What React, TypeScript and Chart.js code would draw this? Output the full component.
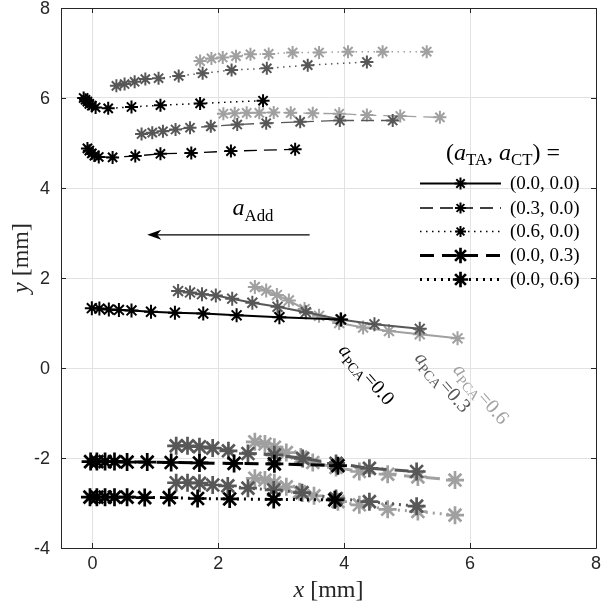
import React, { useEffect, useRef } from 'react';
import { Chart, registerables } from 'chart.js';

Chart.register(...registerables);

// Axis ranges and ticks
const X_MIN = -0.5;
const X_MAX = 8;
const Y_MIN = -4;
const Y_MAX = 8;
const X_TICKS = [0, 2, 4, 6, 8];
const Y_TICKS = [-4, -2, 0, 2, 4, 6, 8];

// a_PCA levels, one shade each
const PCA_LEVELS = ['0.0', '0.3', '0.6'];
const PCA_COLORS = ['#000000', '#575757', '#a0a0a0'];

// (a_TA, a_CT) combinations, one line style each
const STYLE_LABELS = ['(0.0, 0.0)', '(0.3, 0.0)', '(0.6, 0.0)', '(0.0, 0.3)', '(0.0, 0.6)'];

// (a_TA, a_CT) = (0.0, 0.0)
const s1_p0_x = [-0.01, 0.11, 0.26, 0.42, 0.62, 0.93, 1.31, 1.76, 2.29, 2.97, 3.95];
const s1_p0_y = [1.33, 1.32, 1.30, 1.29, 1.28, 1.25, 1.23, 1.21, 1.17, 1.13, 1.08];
const s1_p3_x = [1.36, 1.55, 1.74, 1.96, 2.22, 2.54, 2.94, 3.39, 3.94, 4.48, 5.20];
const s1_p3_y = [1.71, 1.68, 1.64, 1.61, 1.54, 1.45, 1.36, 1.24, 1.08, 0.97, 0.87];
const s1_p6_x = [2.58, 2.76, 2.93, 3.12, 3.37, 3.60, 3.92, 4.30, 4.71, 5.20, 5.80];
const s1_p6_y = [1.80, 1.72, 1.62, 1.50, 1.31, 1.16, 1.00, 0.90, 0.82, 0.75, 0.66];

// (a_TA, a_CT) = (0.3, 0.0)
const s2_p0_x = [-0.08, -0.05, -0.01, 0.03, 0.10, 0.32, 0.68, 1.08, 1.57, 2.20, 3.22];
const s2_p0_y = [4.88, 4.83, 4.77, 4.72, 4.69, 4.68, 4.71, 4.76, 4.78, 4.82, 4.86];
const s2_p3_x = [0.78, 0.95, 1.12, 1.32, 1.55, 1.88, 2.30, 2.76, 3.30, 3.93, 4.77];
const s2_p3_y = [5.20, 5.23, 5.26, 5.30, 5.34, 5.37, 5.41, 5.44, 5.47, 5.50, 5.50];
const s2_p6_x = [2.08, 2.26, 2.45, 2.65, 2.88, 3.15, 3.50, 3.92, 4.36, 4.89, 5.52];
const s2_p6_y = [5.65, 5.66, 5.67, 5.67, 5.68, 5.67, 5.66, 5.65, 5.62, 5.60, 5.57];

// (a_TA, a_CT) = (0.6, 0.0)
const s3_p0_x = [-0.14, -0.11, -0.08, -0.05, -0.01, 0.05, 0.25, 0.62, 1.08, 1.71, 2.71];
const s3_p0_y = [6.00, 5.96, 5.92, 5.87, 5.83, 5.79, 5.77, 5.80, 5.84, 5.88, 5.94];
const s3_p3_x = [0.38, 0.51, 0.67, 0.84, 1.05, 1.37, 1.75, 2.21, 2.77, 3.42, 4.36];
const s3_p3_y = [6.27, 6.31, 6.36, 6.42, 6.44, 6.49, 6.55, 6.62, 6.66, 6.73, 6.80];
const s3_p6_x = [1.71, 1.89, 2.07, 2.28, 2.51, 2.80, 3.18, 3.60, 4.06, 4.61, 5.31];
const s3_p6_y = [6.82, 6.88, 6.90, 6.93, 6.97, 6.98, 7.01, 7.01, 7.03, 7.03, 7.03];

// (a_TA, a_CT) = (0.0, 0.3)
const s4_p0_x = [-0.03, 0.07, 0.20, 0.35, 0.55, 0.87, 1.25, 1.70, 2.25, 2.89, 3.90];
const s4_p0_y = [-2.08, -2.08, -2.08, -2.08, -2.09, -2.09, -2.10, -2.11, -2.12, -2.13, -2.17];
const s4_p3_x = [1.33, 1.51, 1.70, 1.91, 2.16, 2.47, 2.89, 3.34, 3.87, 4.40, 5.15];
const s4_p3_y = [-1.73, -1.73, -1.75, -1.78, -1.84, -1.90, -1.93, -2.01, -2.12, -2.23, -2.30];
const s4_p6_x = [2.58, 2.74, 2.89, 3.08, 3.31, 3.50, 3.87, 4.24, 4.69, 5.17, 5.76];
const s4_p6_y = [-1.64, -1.69, -1.76, -1.88, -1.98, -2.10, -2.21, -2.30, -2.36, -2.42, -2.49];

// (a_TA, a_CT) = (0.0, 0.6)
const s5_p0_x = [-0.04, 0.07, 0.20, 0.35, 0.55, 0.83, 1.22, 1.67, 2.18, 2.88, 3.85];
const s5_p0_y = [-2.87, -2.87, -2.87, -2.87, -2.87, -2.88, -2.88, -2.90, -2.91, -2.92, -2.93];
const s5_p3_x = [1.33, 1.51, 1.70, 1.91, 2.15, 2.47, 2.88, 3.33, 3.87, 4.40, 5.15];
const s5_p3_y = [-2.55, -2.55, -2.56, -2.60, -2.62, -2.67, -2.71, -2.77, -2.90, -2.97, -3.07];
const s5_p6_x = [2.58, 2.74, 2.89, 3.08, 3.29, 3.52, 3.90, 4.24, 4.69, 5.17, 5.76];
const s5_p6_y = [-2.45, -2.49, -2.55, -2.64, -2.75, -2.84, -2.97, -3.04, -3.14, -3.19, -3.27];

const SERIES: [number[], number[]][][] = [
  [[s1_p0_x, s1_p0_y], [s1_p3_x, s1_p3_y], [s1_p6_x, s1_p6_y]],
  [[s2_p0_x, s2_p0_y], [s2_p3_x, s2_p3_y], [s2_p6_x, s2_p6_y]],
  [[s3_p0_x, s3_p0_y], [s3_p3_x, s3_p3_y], [s3_p6_x, s3_p6_y]],
  [[s4_p0_x, s4_p0_y], [s4_p3_x, s4_p3_y], [s4_p6_x, s4_p6_y]],
  [[s5_p0_x, s5_p0_y], [s5_p3_x, s5_p3_y], [s5_p6_x, s5_p6_y]],
];

// Where each a_PCA label starts (data coordinates, below the end of its curve)
const PCA_LABEL_X = [3.97, 5.18, 5.79];
const PCA_LABEL_Y = [0.47, 0.3, 0.04];

// The a_Add arrow and its label (data coordinates)
const ARROW_FROM = [3.45, 2.96];
const ARROW_TO = [0.87, 2.96];
const ARROW_LABEL = [2.55, 3.55];

// Line style of each (a_TA, a_CT) combination
const LINE_STYLES = [
  { dash: [] as number[], width: 2, radius: 7, pointWidth: 2 },
  { dash: [13, 7], width: 1.3, radius: 6.5, pointWidth: 2 },
  { dash: [1.5, 4.5], width: 1.5, radius: 6.5, pointWidth: 2 },
  { dash: [14, 8], width: 3, radius: 9, pointWidth: 2.7 },
  { dash: [2, 5], width: 3, radius: 9, pointWidth: 2.7 },
];

const AXIS_COLOR = '#262626';
const SERIF = '"Liberation Serif", "DejaVu Serif", serif';
const SANS = '"Liberation Sans", Arial, sans-serif';

type Run = { text: string; italic?: boolean; sub?: boolean };

function runsWidth(ctx: CanvasRenderingContext2D, runs: Run[], size: number) {
  let w = 0;
  for (const r of runs) {
    ctx.font = `${r.italic ? 'italic ' : ''}${r.sub ? size * 0.7 : size}px ${SERIF}`;
    w += ctx.measureText(r.text).width;
  }
  return w;
}

// Draws math-like text: italic symbols with upright subscripts; y is the baseline
function drawRuns(
  ctx: CanvasRenderingContext2D,
  runs: Run[],
  x: number,
  y: number,
  size: number,
  align: 'left' | 'center',
  color: string,
) {
  const total = runsWidth(ctx, runs, size);
  let cx = align === 'center' ? x - total / 2 : x;
  ctx.save();
  ctx.fillStyle = color;
  ctx.textAlign = 'left';
  ctx.textBaseline = 'alphabetic';
  for (const r of runs) {
    ctx.font = `${r.italic ? 'italic ' : ''}${r.sub ? size * 0.7 : size}px ${SERIF}`;
    ctx.fillText(r.text, cx, y + (r.sub ? size * 0.22 : 0));
    cx += ctx.measureText(r.text).width;
  }
  ctx.restore();
}

function drawStar(ctx: CanvasRenderingContext2D, x: number, y: number, r: number, lw: number, color: string) {
  ctx.save();
  ctx.strokeStyle = color;
  ctx.lineWidth = lw;
  ctx.setLineDash([]);
  ctx.beginPath();
  for (let k = 0; k < 4; k++) {
    const a = (k * Math.PI) / 4;
    ctx.moveTo(x - Math.cos(a) * r, y - Math.sin(a) * r);
    ctx.lineTo(x + Math.cos(a) * r, y + Math.sin(a) * r);
  }
  ctx.stroke();
  ctx.restore();
}

const overlayPlugin = {
  id: 'figureOverlay',
  afterDraw(chart: any) {
    const ctx: CanvasRenderingContext2D = chart.ctx;
    const { left, right, top, bottom } = chart.chartArea;
    const xs = chart.scales.x;
    const ys = chart.scales.y;

    // Axes box with inward tick marks
    ctx.save();
    ctx.strokeStyle = AXIS_COLOR;
    ctx.lineWidth = 1;
    ctx.setLineDash([]);
    ctx.beginPath();
    ctx.rect(Math.round(left) + 0.5, Math.round(top) + 0.5, Math.round(right - left), Math.round(bottom - top));
    for (const v of X_TICKS) {
      const px = Math.round(xs.getPixelForValue(v)) + 0.5;
      ctx.moveTo(px, bottom);
      ctx.lineTo(px, bottom - 5);
      ctx.moveTo(px, top);
      ctx.lineTo(px, top + 5);
    }
    for (const v of Y_TICKS) {
      const py = Math.round(ys.getPixelForValue(v)) + 0.5;
      ctx.moveTo(left, py);
      ctx.lineTo(left + 5, py);
      ctx.moveTo(right, py);
      ctx.lineTo(right - 5, py);
    }
    ctx.stroke();

    // Tick labels
    ctx.fillStyle = AXIS_COLOR;
    ctx.font = `18px ${SANS}`;
    ctx.textAlign = 'center';
    ctx.textBaseline = 'top';
    for (const v of X_TICKS) {
      ctx.fillText(String(v), xs.getPixelForValue(v), bottom + 7);
    }
    ctx.textAlign = 'right';
    ctx.textBaseline = 'middle';
    for (const v of Y_TICKS) {
      ctx.fillText(String(v), left - 11, ys.getPixelForValue(v) + 1);
    }
    ctx.restore();

    // Axis titles
    drawRuns(ctx, [{ text: 'x', italic: true }, { text: ' [mm]' }], (left + right) / 2, 597, 24, 'center', AXIS_COLOR);
    ctx.save();
    ctx.translate(28, 258);
    ctx.rotate(-Math.PI / 2);
    drawRuns(ctx, [{ text: 'y', italic: true }, { text: ' [mm]' }], 0, 0, 24, 'center', AXIS_COLOR);
    ctx.restore();

    // Arrow for a_Add
    const ax0 = xs.getPixelForValue(ARROW_FROM[0]);
    const ay0 = ys.getPixelForValue(ARROW_FROM[1]);
    const ax1 = xs.getPixelForValue(ARROW_TO[0]);
    const ay1 = ys.getPixelForValue(ARROW_TO[1]);
    ctx.save();
    ctx.strokeStyle = '#000';
    ctx.fillStyle = '#000';
    ctx.lineWidth = 1.2;
    ctx.beginPath();
    ctx.moveTo(ax0, ay0);
    ctx.lineTo(ax1 + 8, ay1);
    ctx.stroke();
    ctx.beginPath();
    ctx.moveTo(ax1, ay1);
    ctx.lineTo(ax1 + 14, ay1 - 5);
    ctx.lineTo(ax1 + 10, ay1);
    ctx.lineTo(ax1 + 14, ay1 + 5);
    ctx.closePath();
    ctx.fill();
    ctx.restore();
    drawRuns(
      ctx,
      [{ text: 'a', italic: true }, { text: 'Add', sub: true }],
      xs.getPixelForValue(ARROW_LABEL[0]),
      ys.getPixelForValue(ARROW_LABEL[1]) + 7,
      24,
      'center',
      '#000',
    );

    // Rotated a_PCA labels
    PCA_LEVELS.forEach((lvl, i) => {
      ctx.save();
      ctx.translate(xs.getPixelForValue(PCA_LABEL_X[i]), ys.getPixelForValue(PCA_LABEL_Y[i]));
      ctx.rotate((49 * Math.PI) / 180);
      drawRuns(ctx, [{ text: 'a', italic: true }, { text: 'PCA', sub: true }, { text: '=' + lvl }], 0, 6, 20, 'left', PCA_COLORS[i]);
      ctx.restore();
    });

    // Legend
    const legTitle: Run[] = [
      { text: '(' },
      { text: 'a', italic: true },
      { text: 'TA', sub: true },
      { text: ', ' },
      { text: 'a', italic: true },
      { text: 'CT', sub: true },
      { text: ') =' },
    ];
    drawRuns(ctx, legTitle, 503, 160, 24, 'center', '#000');
    const rowY = [183.5, 208, 231.5, 255.5, 279.5];
    STYLE_LABELS.forEach((lab, i) => {
      const st = LINE_STYLES[i];
      const y = rowY[i];
      ctx.save();
      ctx.strokeStyle = '#000';
      ctx.lineWidth = st.width;
      ctx.setLineDash(st.dash);
      ctx.beginPath();
      ctx.moveTo(420, y);
      ctx.lineTo(501, y);
      ctx.stroke();
      ctx.restore();
      drawStar(ctx, 460.5, y, st.radius * 0.85, st.pointWidth, '#000');
      ctx.save();
      ctx.fillStyle = '#000';
      ctx.font = `19px ${SERIF}`;
      ctx.textAlign = 'left';
      ctx.textBaseline = 'middle';
      ctx.fillText(lab, 510, y + 1);
      ctx.restore();
    });
  },
};

export default function App() {
  const canvasRef = useRef<HTMLCanvasElement | null>(null);

  useEffect(() => {
    const canvas = canvasRef.current;
    if (!canvas) return;

    const datasets: any[] = [];
    SERIES.forEach((group, s) => {
      const st = LINE_STYLES[s];
      group.forEach(([xv, yv], p) => {
        datasets.push({
          label: `${STYLE_LABELS[s]} aPCA=${PCA_LEVELS[p]}`,
          data: xv.map((x, i) => ({ x, y: yv[i] })),
          showLine: true,
          borderColor: PCA_COLORS[p],
          backgroundColor: PCA_COLORS[p],
          borderWidth: st.width,
          borderDash: st.dash,
          pointStyle: 'star',
          pointRadius: st.radius,
          pointBorderWidth: st.pointWidth,
          pointBorderColor: PCA_COLORS[p],
          pointHoverRadius: st.radius,
          tension: 0,
          order: p,
        });
      });
    });

    const chart = new Chart(canvas, {
      type: 'scatter',
      data: { datasets },
      options: {
        animation: false,
        responsive: false,
        devicePixelRatio: 1,
        layout: { autoPadding: false, padding: { top: 8, right: 6, left: 0, bottom: 0 } },
        plugins: { legend: { display: false }, tooltip: { enabled: false } },
        scales: {
          x: {
            type: 'linear',
            min: X_MIN,
            max: X_MAX,
            afterBuildTicks: (scale: any) => {
              scale.ticks = X_TICKS.map((v) => ({ value: v }));
            },
            afterFit: (scale: any) => {
              scale.height = 60;
            },
            grid: { color: '#e2e2e2', lineWidth: 1, drawTicks: false },
            border: { display: false },
            ticks: { display: false },
          },
          y: {
            type: 'linear',
            min: Y_MIN,
            max: Y_MAX,
            afterBuildTicks: (scale: any) => {
              scale.ticks = Y_TICKS.map((v) => ({ value: v }));
            },
            afterFit: (scale: any) => {
              scale.width = 61;
            },
            grid: { color: '#e2e2e2', lineWidth: 1, drawTicks: false },
            border: { display: false },
            ticks: { display: false },
          },
        },
      },
      plugins: [overlayPlugin],
    });

    return () => chart.destroy();
  }, []);

  return (
    <div style={{ position: 'fixed', left: 0, top: 0, width: 602, height: 608, background: '#fff' }}>
      <canvas ref={canvasRef} width={602} height={608} style={{ display: 'block' }} />
    </div>
  );
}
